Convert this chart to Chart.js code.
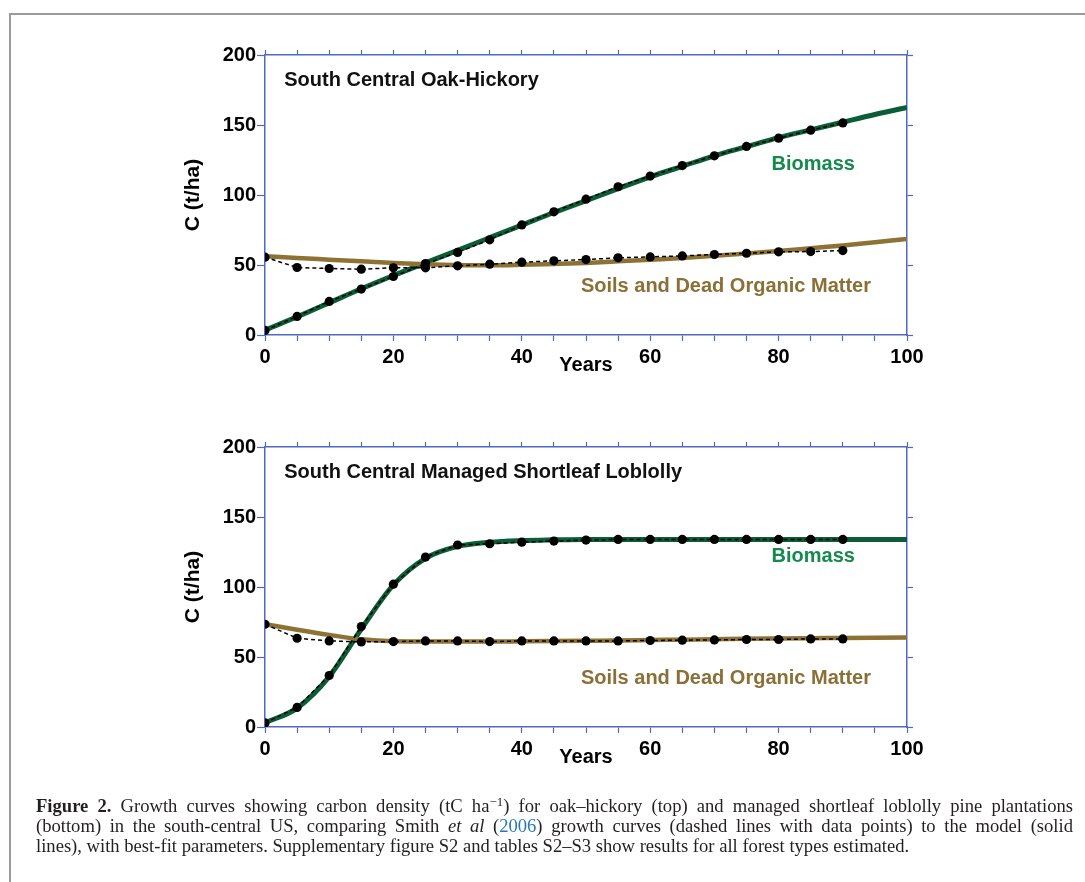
<!DOCTYPE html>
<html>
<head>
<meta charset="utf-8">
<script src="https://cdn.jsdelivr.net/npm/chart.js@4.4.1/dist/chart.umd.min.js"></script>
<style>
  body { margin: 0; background: #fff; }
  #page { position: relative; width: 1085px; height: 882px; overflow: hidden; }
  #frame {
    position: absolute; left: 9px; top: 13px; width: 1090px; height: 880px;
    border-top: 2px solid #9b9b9b; border-left: 2px solid #9b9b9b;
  }
  canvas { position: absolute; left: 0; }
  #caption {
    position: absolute; left: 36px; top: 796px; width: 1037px;
    font-family: "Liberation Serif", "Times New Roman", serif;
    font-size: 18.6px; line-height: 20px; color: #231f20;
  }
  #caption div { white-space: nowrap; }
  #caption .j { text-align: justify; text-align-last: justify; }
  #caption sup { font-size: 70%; line-height: 0; vertical-align: 0.5em; }
  #caption .ref { color: #2a78b8; }
</style>
</head>
<body>
<div id="page">
  <div id="frame"></div>
  <canvas id="oakChart" width="1085" height="400" style="top:0"></canvas>
  <canvas id="pineChart" width="1085" height="400" style="top:392px"></canvas>
  <div id="caption">
    <div class="j"><b>Figure 2.</b> Growth curves showing carbon density (tC ha<sup>−1</sup>) for oak–hickory (top) and managed shortleaf loblolly pine plantations</div>
    <div class="j">(bottom) in the south-central US, comparing Smith <i>et al</i> (<span class="ref">2006</span>) growth curves (dashed lines with data points) to the model (solid</div>
    <div>lines), with best-fit parameters. Supplementary figure S2 and tables S2–S3 show results for all forest types estimated.</div>
  </div>
</div>
<script>
// years of the Smith et al table values, and of the fitted model curves
const sampleYears = [0, 5, 10, 15, 20, 25, 30, 35, 40, 45, 50, 55, 60, 65, 70, 75, 80, 85, 90];
const modelYears = [0, 5, 10, 15, 20, 25, 30, 35, 40, 45, 50, 55, 60, 65, 70, 75, 80, 85, 90, 95, 100];
const yTicks = [0, 50, 100, 150, 200];

// South Central Oak-Hickory
const oakBiomassPts = [3.3, 13.3, 24, 32.8, 41.8, 51, 59, 68, 78.6, 88, 97, 105.9, 113.5, 121, 128, 134.7, 140.6, 146.3, 151.5];
const oakSoilPts = [55.6, 48.2, 47.5, 47, 48, 48, 49.4, 50.6, 52, 53, 53.9, 55.1, 55.8, 56.5, 57.5, 58.4, 59.4, 59.6, 60.3];
const oakBiomassFit = [3.5, 13, 23, 33, 42.5, 51.5, 60.5, 69.5, 78.5, 87.5, 96, 104.5, 113, 120.5, 128, 134.5, 141, 146.5, 152, 157.5, 162.5];
const oakSoilFit = [56.3, 55, 53.8, 52.6, 51.5, 50.5, 49.9, 49.8, 50.2, 50.8, 51.5, 52.6, 53.8, 55, 56.6, 58.2, 60, 62, 64, 66.2, 68.6];

// South Central Managed Shortleaf Loblolly
const pineBiomassPts = [2.9, 14, 36.8, 71.7, 102, 121.4, 130, 130.9, 132, 132.8, 133.5, 134, 134, 134, 134, 134, 134, 134, 134];
const pineSoilPts = [73.4, 63.4, 61.5, 60.8, 61, 61.5, 61.5, 61, 61.5, 61.5, 61.5, 61.5, 61.8, 62, 62.2, 62.5, 62.5, 62.9, 62.9];
const pineBiomassFit = [3, 13.5, 36, 70, 101.5, 120.5, 129, 132, 133.2, 133.7, 134, 134, 134, 134, 134, 134, 134, 134, 134, 134, 134];
const pineSoilFit = [73.5, 69.5, 65.8, 62.6, 61.2, 61, 61, 61, 61.2, 61.4, 61.6, 61.8, 62.1, 62.4, 62.7, 63, 63.2, 63.4, 63.6, 63.8, 64];

const BLUE = "#5169c3";
const GREEN = "#0b5d38";
const GREEN_TEXT = "#16894d";
const BROWN = "#8d7234";
const BROWN_TEXT = "#8a6f36";
const FONT = "'Liberation Sans', Arial, sans-serif";

function pts(xs, ys) {
  return ys.map((v, i) => ({ x: xs[i], y: v }));
}

// writes panel title and series names inside the plot, at data coordinates
const plotText = {
  id: "plotText",
  afterDatasetsDraw(chart, args, opts) {
    const { ctx, scales } = chart;
    ctx.save();
    ctx.textBaseline = "middle";
    opts.items.forEach((it) => {
      ctx.font = "bold 20px " + FONT;
      ctx.fillStyle = it.color;
      ctx.textAlign = it.align;
      ctx.fillText(it.text, scales.x.getPixelForValue(it.x), scales.y.getPixelForValue(it.y));
    });
    ctx.restore();
  },
};

function fixBox(size) {
  return (s) => {
    if (s.isHorizontal()) s.height = size;
    else s.width = size;
    s.paddingLeft = 0; s.paddingRight = 0; s.paddingTop = 0; s.paddingBottom = 0;
  };
}

function makeChart(id, title, biomassPts, soilPts, biomassFit, soilFit) {
  const tickFont = { family: FONT, weight: "bold", size: 20 };
  const border = { color: BLUE, width: 1.5 };
  return new Chart(document.getElementById(id), {
    type: "line",
    data: {
      datasets: [
        {
          data: pts(sampleYears, biomassPts), borderColor: "#000", borderWidth: 1.5, borderDash: [4, 3],
          pointRadius: 4.6, pointBackgroundColor: "#000", pointBorderWidth: 0, order: 0,
        },
        {
          data: pts(sampleYears, soilPts), borderColor: "#000", borderWidth: 1.5, borderDash: [4, 3],
          pointRadius: 4.6, pointBackgroundColor: "#000", pointBorderWidth: 0, order: 0,
        },
        {
          data: pts(modelYears, biomassFit), borderColor: GREEN, borderWidth: 5,
          pointRadius: 0, cubicInterpolationMode: "monotone", order: 2,
        },
        {
          data: pts(modelYears, soilFit), borderColor: BROWN, borderWidth: 4.5,
          pointRadius: 0, cubicInterpolationMode: "monotone", order: 1,
        },
      ],
    },
    options: {
      responsive: false,
      animation: false,
      layout: { padding: { left: 170, right: 168, top: 49, bottom: 23 } },
      plugins: {
        legend: { display: false },
        tooltip: { enabled: false },
        plotText: {
          items: [
            { text: title, x: 3, y: 181.5, color: "#111", align: "left" },
            { text: "Biomass", x: 85.4, y: 121.5, color: GREEN_TEXT, align: "center" },
            { text: "Soils and Dead Organic Matter", x: 71.8, y: 34.7, color: BROWN_TEXT, align: "center" },
          ],
        },
      },
      scales: {
        x: {
          type: "linear", position: "bottom", min: 0, max: 100,
          ticks: {
            stepSize: 5, autoSkip: false, maxRotation: 0, padding: 4, color: "#000", font: tickFont,
            callback: (v) => (v % 20 === 0 ? v : ""),
          },
          grid: { drawOnChartArea: false, tickLength: 6, tickColor: BLUE, tickWidth: 1.2 },
          border: border,
          title: { display: true, text: "Years", color: "#000", font: tickFont, padding: 0 },
          afterFit: fixBox(42),
        },
        x2: {
          type: "linear", position: "top", min: 0, max: 100,
          ticks: { stepSize: 5, autoSkip: false, maxRotation: 0, callback: () => "" },
          grid: { drawOnChartArea: false, tickLength: 5, tickColor: BLUE, tickWidth: 1.2 },
          border: border,
          afterFit: fixBox(6),
        },
        y: {
          type: "linear", position: "left", min: 0, max: 200,
          afterBuildTicks: (s) => { s.ticks = yTicks.map((v) => ({ value: v })); },
          ticks: { padding: 1, color: "#000", font: tickFont },
          grid: { drawOnChartArea: false, tickLength: 8, tickColor: BLUE, tickWidth: 1.2 },
          border: border,
          title: {
            display: true, text: "C (t/ha)", color: "#000",
            font: { family: FONT, weight: "bold", size: 21 }, padding: { top: 11, bottom: 0 },
          },
          afterFit: fixBox(95),
        },
        y2: {
          type: "linear", position: "right", min: 0, max: 200,
          afterBuildTicks: (s) => { s.ticks = yTicks.map((v) => ({ value: v })); },
          ticks: { callback: () => "" },
          grid: { drawOnChartArea: false, tickLength: 6, tickColor: BLUE, tickWidth: 1.2 },
          border: border,
          afterFit: fixBox(10),
        },
      },
    },
    plugins: [plotText],
  });
}

makeChart("oakChart", "South Central Oak-Hickory", oakBiomassPts, oakSoilPts, oakBiomassFit, oakSoilFit);
makeChart("pineChart", "South Central Managed Shortleaf Loblolly", pineBiomassPts, pineSoilPts, pineBiomassFit, pineSoilFit);
</script>
</body>
</html>
